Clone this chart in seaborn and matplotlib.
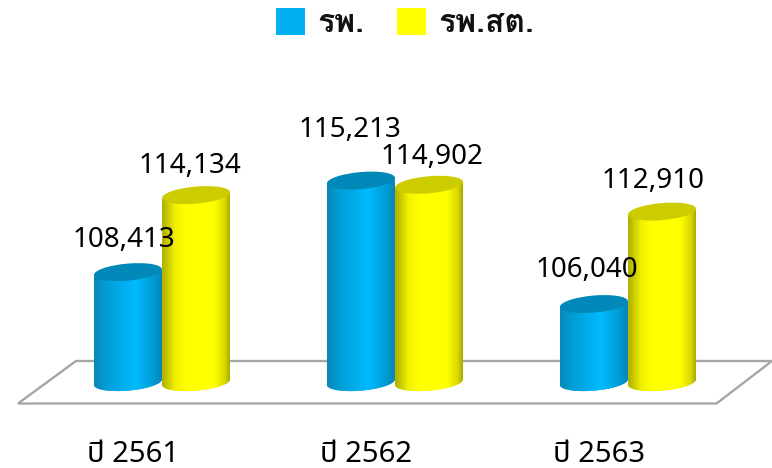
import matplotlib
matplotlib.use('Agg')
import numpy as np, pandas as pd
import matplotlib.pyplot as plt
import seaborn as sns
from matplotlib.colors import LinearSegmentedColormap
from matplotlib.patches import Ellipse, Polygon, Patch
from matplotlib.transforms import Affine2D, IdentityTransform

years = ['ปี 2561', 'ปี 2562', 'ปี 2563']
series_names = ['รพ.', 'รพ.สต.']
hospital = [108413, 115213, 106040]
health_station = [114134, 114902, 112910]

colors = ['#00B0F0', '#FFFF00']
top_colors = ['#0088B8', '#CCCC00']
body_stops = [
    [(0, '#0A86B4'), (0.2, '#009FD8'), (0.6, '#00BAFF'), (0.85, '#009CD4'), (1, '#0A7EAA')],
    [(0, '#A8A800'), (0.2, '#F0F000'), (0.35, '#FFFF00'), (0.75, '#FFFF00'), (0.9, '#D8D800'), (1, '#989800')],
]
# label offsets from the bar top centre, in pixels (x right, y up)
label_offsets = [[(-4, 32), (-11, 51), (-7, 34)], [(-6, 29), (3, 28), (-9, 31)]]

sns.set_style('white')
plt.rcParams['font.family'] = ['Noto Sans Thai', 'Loma', 'DejaVu Sans']

W, H = 772, 468
fig = plt.figure(figsize=(W / 100, H / 100), dpi=100)
ax = fig.add_axes([0, 0, 1, 1])
fig.patch.set_facecolor('white')
ax.patch.set_alpha(0)

df = pd.DataFrame({
    'year': years * 2,
    'series': [series_names[0]] * 3 + [series_names[1]] * 3,
    'value': hospital + health_station,
})
sns.barplot(data=df, x='year', y='value', hue='series', hue_order=series_names,
            palette=colors, width=0.585, gap=0, dodge=True, legend=False,
            errorbar=None, ax=ax, linewidth=0)

px_per_unit = 0.01346
ref_value = 100100
ref_px = 384
base_value = 100240
ylim = (ref_value - (H - ref_px) / px_per_unit, ref_value + ref_px / px_per_unit)
xlim = (-162 / 233, (W - 162) / 233)
ax.set_ylim(*ylim)
ax.set_xlim(*xlim)
ax.set_xlabel('')
ax.set_ylabel('')
ax.set_yticks([])
sns.despine(ax=ax, left=True, bottom=True)
ax.tick_params(axis='x', length=0, pad=0, labelsize=21, labelcolor='black')
shift = Affine2D().translate(-29, 28)
for lab in ax.get_xticklabels():
    lab.set_transform(lab.get_transform() + shift)
    lab.set_clip_on(False)

# floor of the 3-D scene, in pixel coordinates from the top-left corner
to_px = Affine2D().scale(1, -1).translate(0, H)
floor = [(18, 403.5), (716.5, 403.5), (772, 361), (76, 361)]
fig.add_artist(Polygon(floor, closed=True, facecolor='white', edgecolor='#A6A6A6',
                       linewidth=1.7, transform=to_px, zorder=-5, joinstyle='miter'))

a_tilt = np.deg2rad(5)
b = 8.5
bars = list(ax.patches)
n = len(years)
for i, bar in enumerate(bars):
    s = i // n
    g = i % n
    z = 3 + 3 * s + g * 0.1
    x0, x1 = bar.get_x(), bar.get_x() + bar.get_width()
    val = bar.get_height()
    (px0, py_top) = ax.transData.transform((x0, val))
    (px1, py_base) = ax.transData.transform((x1, base_value))
    a = (px1 - px0) / 2
    cx = (px0 + px1) / 2
    R = np.array([[np.cos(a_tilt), -np.sin(a_tilt)], [np.sin(a_tilt), np.cos(a_tilt)]])
    t = np.linspace(np.pi, 2 * np.pi, 60)
    lower = (R @ np.vstack([a * np.cos(t), b * np.sin(t)])).T + [cx, py_base]
    ends = R @ np.array([[-a, a], [0, 0]])
    outline = np.vstack([[cx + ends[0, 0], py_top + ends[1, 0]], lower,
                         [cx + ends[0, 1], py_top + ends[1, 1]]])
    body = Polygon(outline, closed=True, transform=IdentityTransform(), facecolor='none', edgecolor='none')
    ax.add_patch(body)
    bar.set_zorder(z)
    bar.set_clip_path(body)
    cmap = LinearSegmentedColormap.from_list('c%d' % s, body_stops[s])
    im = ax.imshow(np.linspace(0, 1, 256)[None, :], cmap=cmap, aspect='auto', vmin=0, vmax=1,
                   extent=(px0 - 1, px1 + 1, py_base - 12, py_top + 5),
                   transform=IdentityTransform(), zorder=z + 0.1, interpolation='bilinear')
    im.set_clip_path(body)
    ax.add_patch(Ellipse((cx, py_top), 2 * a, 2 * b, angle=np.rad2deg(a_tilt), transform=IdentityTransform(),
                         facecolor=top_colors[s], edgecolor='none', zorder=z + 0.2, clip_on=False))
    dx, dy = label_offsets[s][g]
    ax.annotate(f'{val:,.0f}', xy=(cx, py_top), xycoords=IdentityTransform(),
                xytext=(dx * 0.72, dy * 0.72), textcoords='offset points', ha='center', va='center',
                fontsize=20, color='black', zorder=20, annotation_clip=False)

ax.set_ylim(*ylim)
ax.set_xlim(*xlim)

handles = [Patch(facecolor=c, edgecolor='none') for c in colors]
fig.legend(handles, series_names, loc='upper left', bbox_to_anchor=(276 / W, 1 - 8 / H),
           ncols=2, frameon=False, borderpad=0, borderaxespad=0, handlelength=0.91, handleheight=0.91,
           handletextpad=0.38, columnspacing=1.02, labelcolor='#111111',
           prop={'family': 'Loma', 'size': 23, 'weight': 'bold'})

fig.savefig('out.png', dpi=100)
